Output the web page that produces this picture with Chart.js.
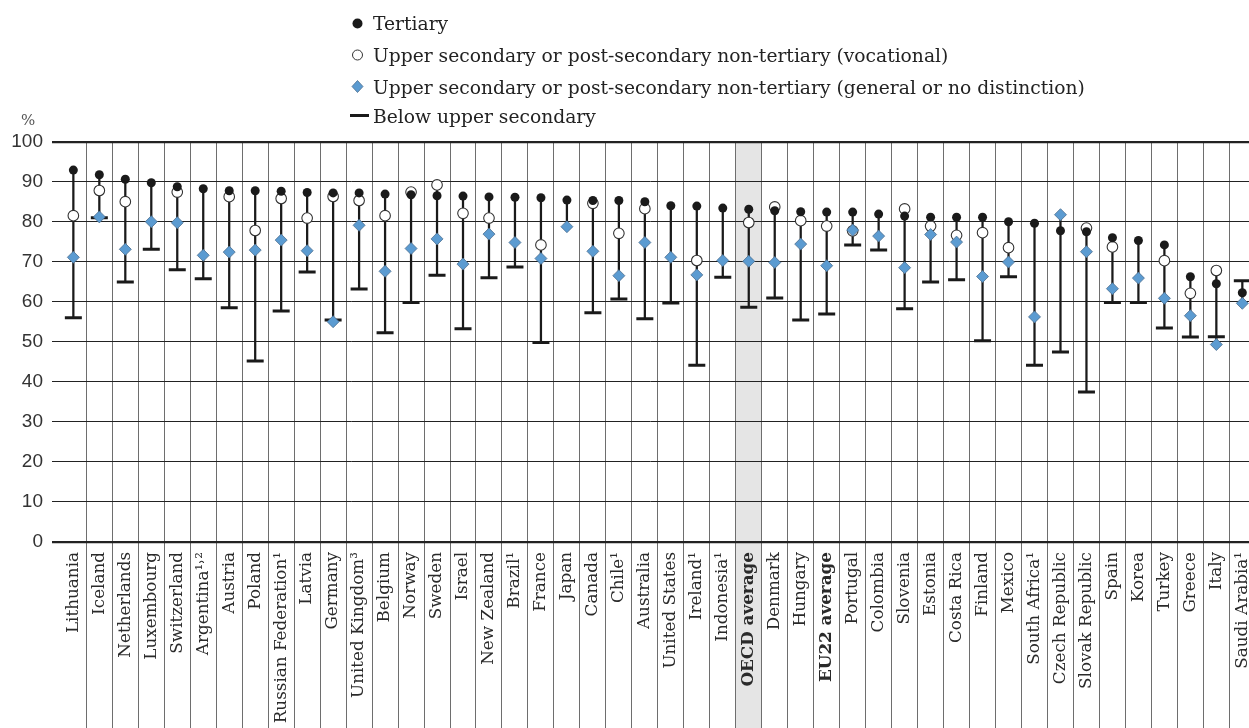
<!DOCTYPE html>
<html>
<head>
<meta charset="utf-8">
<script src="https://cdn.jsdelivr.net/npm/chart.js@4/dist/chart.umd.min.js"></script>
<style>
  html, body { margin: 0; padding: 0; background: #fff; overflow: hidden; }
  #wrap { position: relative; width: 1249px; height: 728px; }
  #chart { position: absolute; left: 0; top: 0; }
  .leg { position: absolute; left: 373px; font: 18.7px "DejaVu Serif", serif; line-height: 22px; color: #222; white-space: nowrap; }
  .sym { position: absolute; }
  #pct { position: absolute; left: 21px; top: 111px; font: 15px "DejaVu Serif", serif; color: #555; }
</style>
</head>
<body>
<div id="wrap">
  <canvas id="chart" width="1249" height="728"></canvas>

  <svg class="sym" style="left:350px;top:16px" width="20" height="16"><circle cx="7.5" cy="7.5" r="5" fill="#1a1a1a"/></svg>
  <div class="leg" style="top:13px">Tertiary</div>

  <svg class="sym" style="left:350px;top:48px" width="20" height="16"><circle cx="7.5" cy="7" r="5" fill="#fff" stroke="#333" stroke-width="1"/></svg>
  <div class="leg" style="top:44.5px">Upper secondary or post-secondary non-tertiary (vocational)</div>

  <svg class="sym" style="left:350px;top:79px" width="20" height="16"><polygon points="7.5,1.5 13,7.5 7.5,13.5 2,7.5" fill="#5b9bd1" stroke="#4d6f8f" stroke-width="0.8"/></svg>
  <div class="leg" style="top:76.5px">Upper secondary or post-secondary non-tertiary (general or no distinction)</div>

  <svg class="sym" style="left:350px;top:108px" width="20" height="16"><rect x="0" y="6" width="19" height="3" fill="#1a1a1a"/></svg>
  <div class="leg" style="top:106px">Below upper secondary</div>

  <div id="pct">%</div>
</div>
<script>
// === Données ===
const categories = ['Lithuania', 'Iceland', 'Netherlands', 'Luxembourg', 'Switzerland', 'Argentina¹˒²', 'Austria', 'Poland',
    'Russian Federation¹', 'Latvia', 'Germany', 'United Kingdom³', 'Belgium', 'Norway', 'Sweden', 'Israel', 'New Zealand',
    'Brazil¹', 'France', 'Japan', 'Canada', 'Chile¹', 'Australia', 'United States', 'Ireland¹', 'Indonesia¹', 'OECD average',
    'Denmark', 'Hungary', 'EU22 average', 'Portugal', 'Colombia', 'Slovenia', 'Estonia', 'Costa Rica', 'Finland', 'Mexico',
    'South Africa¹', 'Czech Republic', 'Slovak Republic', 'Spain', 'Korea', 'Turkey', 'Greece', 'Italy', 'Saudi Arabia¹'];

const tertiary = [92.9, 91.75, 90.6, 89.75, 88.75, 88.25, 87.75, 87.75, 87.6, 87.3, 87.2, 87.2, 86.9, 86.75, 86.5, 86.4,
    86.2, 86.1, 86.0, 85.4, 85.3, 85.3, 85.0, 84.0, 83.9, 83.4, 83.1, 82.75, 82.5, 82.4, 82.4, 81.9, 81.4, 81.1, 81.1, 81.1,
    80.0, 79.6, 77.75, 77.5, 76.0, 75.3, 74.2, 66.25, 64.5, 62.25];

const vocational = [81.5, 87.8, 85.0, null, 87.4, null, 86.25, 77.8, 85.8, 80.9, 86.3, 85.3, 81.5, 87.4, 89.2, 82.1,
    80.9, null, 74.2, null, 84.6, 77.1, 83.25, null, 70.3, null, 79.8, 83.7, 80.25, 78.9, 77.7, null, 83.2, 78.9, 76.6, 77.25,
    73.5, null, null, 78.4, 73.7, null, 70.25, 62.1, 67.8, null];

const general = [71.1, 81.2, 73.1, 80.0, 79.75, 71.6, 72.4, 72.9, 75.4, 72.75, 55.0, 79.1, 67.6, 73.3, 75.7, 69.4,
    76.9, 74.8, 70.8, 78.75, 72.6, 66.5, 74.8, 71.1, 66.7, 70.3, 70.1, 69.8, 74.4, 69.0, 77.9, 76.4, 68.5, 76.8, 74.9, 66.3,
    69.9, 56.2, 81.75, 72.5, 63.25, 65.9, 60.85, 56.5, 49.3, 59.6];

const belowUpper = [56.0, 81.0, 64.9, 73.1, 68.0, 65.75, 58.5, 45.2, 57.7, 67.4, 55.4, 63.2, 52.25, 59.8, 66.6, 53.25,
    66.0, 68.7, 49.8, null, 57.25, 60.7, 55.75, 59.7, 44.1, 66.1, 58.6, 60.9, 55.4, 56.9, 74.2, 72.9, 58.25, 64.9, 65.5, 50.25,
    66.25, 44.1, 47.4, 37.4, 59.8, 59.8, 53.4, 51.2, 51.25, 65.25];

const yTicks = [0, 10, 20, 30, 40, 50, 60, 70, 80, 90, 100];
const boldCats = ['OECD average', 'EU22 average'];
const highlightCat = 'OECD average';

// === Construction ===
const toPoints = arr => arr.map((v, i) => ({ x: i, y: v }));
const ranges = categories.map((c, i) => {
    const vals = [tertiary[i], vocational[i], general[i], belowUpper[i]].filter(v => v !== null);
    return { x: i, y: [Math.min(...vals), Math.max(...vals)] };
});

const serif = '"DejaVu Serif", serif';

// bande grise derrière la moyenne OCDE
const highlightPlugin = {
    id: 'highlight',
    beforeDraw(chart) {
        const x = chart.scales.x;
        const idx = categories.indexOf(highlightCat);
        const l = x.getPixelForValue(idx - 0.5);
        const r = x.getPixelForValue(idx + 0.5);
        const ctx = chart.ctx;
        ctx.save();
        ctx.fillStyle = '#e5e5e5';
        ctx.fillRect(l, chart.chartArea.top, r - l, chart.height - chart.chartArea.top);
        ctx.restore();
    }
};

const ctx = document.getElementById('chart');
new Chart(ctx, {
    type: 'scatter',
    data: {
        datasets: [
            {
                label: 'Tertiary',
                data: toPoints(tertiary),
                pointStyle: 'circle',
                pointRadius: 4.5,
                backgroundColor: '#1a1a1a',
                borderColor: '#1a1a1a',
                borderWidth: 0,
                order: 1
            },
            {
                label: 'Upper secondary or post-secondary non-tertiary (general or no distinction)',
                data: toPoints(general),
                pointStyle: 'rectRot',
                pointRadius: 6,
                backgroundColor: '#5b9bd1',
                borderColor: '#4d6f8f',
                borderWidth: 0.8,
                order: 2
            },
            {
                label: 'Upper secondary or post-secondary non-tertiary (vocational)',
                data: toPoints(vocational),
                pointStyle: 'circle',
                pointRadius: 5.3,
                backgroundColor: '#ffffff',
                borderColor: '#333333',
                borderWidth: 1.1,
                order: 3
            },
            {
                label: 'Below upper secondary',
                data: toPoints(belowUpper),
                pointStyle: 'line',
                pointRadius: 8.5,
                borderColor: '#1a1a1a',
                borderWidth: 3,
                order: 4
            },
            {
                type: 'bar',
                label: 'range',
                data: ranges,
                barThickness: 1.6,
                backgroundColor: '#1a1a1a',
                borderWidth: 0,
                order: 5
            }
        ]
    },
    options: {
        responsive: false,
        animation: false,
        devicePixelRatio: 1,
        layout: { autoPadding: false, padding: { top: 141.7, left: 0, right: 0, bottom: 0 } },
        plugins: { legend: { display: false }, tooltip: { enabled: false } },
        scales: {
            x: {
                type: 'linear',
                offset: false,
                min: -0.822,
                max: 45.257,
                afterBuildTicks: scale => { scale.ticks = categories.map((c, i) => ({ value: i })); },
                afterFit: scale => {
                    scale.height = 186.3;
                    scale.paddingLeft = 0;
                    scale.paddingRight = 0;
                },
                border: { display: false },
                grid: {
                    offset: true,
                    tickLength: 186.3,
                    lineWidth: 1,
                    color: c => (c.index === 0 ? 'rgba(0,0,0,0)' : '#6e6e6e')
                },
                ticks: {
                    autoSkip: false,
                    minRotation: 90,
                    maxRotation: 90,
                    padding: -176,
                    color: '#2a2a2a',
                    font: c => ({
                        family: serif,
                        size: 16.8,
                        weight: boldCats.includes(categories[c.index]) ? 'bold' : 'normal'
                    }),
                    callback: v => categories[v]
                }
            },
            y: {
                min: 0,
                max: 100,
                afterBuildTicks: scale => { scale.ticks = yTicks.map(v => ({ value: v })); },
                afterFit: scale => {
                    scale.width = 52;
                    scale.paddingTop = 0;
                    scale.paddingBottom = 0;
                },
                border: { display: false },
                grid: {
                    drawTicks: false,
                    color: '#222222',
                    lineWidth: c => (c.tick && (c.tick.value === 100 || c.tick.value === 0) ? 2.2 : 1)
                },
                ticks: {
                    padding: 9,
                    color: '#333333',
                    font: { family: '"Liberation Sans", Arial, sans-serif', size: 19 }
                }
            }
        }
    },
    plugins: [highlightPlugin]
});
</script>
</body>
</html>
